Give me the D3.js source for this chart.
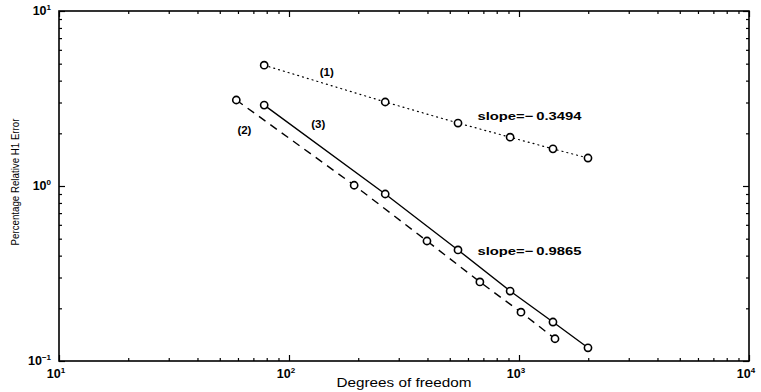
<!DOCTYPE html>
<html>
<head>
<meta charset="utf-8">
<script src="https://cdn.jsdelivr.net/npm/d3@7.9.0/dist/d3.min.js"></script>
<style>
  body { margin: 0; background: #fff; }
  text { font-family: "Liberation Sans", Arial, sans-serif; fill: #000; }
</style>
</head>
<body>
<div id="chart"></div>
<script>
// degrees of freedom for each curve
const dofA = [78, 262, 543, 915, 1405, 1995];   // curves (1) and (3)
const dofB = [59, 192, 398, 676, 1020, 1434];   // curve (2)

// percentage relative H1 error
const err1 = [4.9, 3.02, 2.29, 1.9, 1.63, 1.445];
const err2 = [3.1, 1.01, 0.485, 0.283, 0.19, 0.134];
const err3 = [2.9, 0.9, 0.431, 0.251, 0.167, 0.119];

const xMajor = [1e1, 1e2, 1e3, 1e4];
const yMajor = [1e-1, 1e0, 1e1];
const xExp = ["1", "2", "3", "4"];
const yExp = ["-1", "0", "1"];

const annotations = [
  { text: "(1)", x: 146, y: 4.48 },
  { text: "(2)", x: 64, y: 2.1 },
  { text: "(3)", x: 134, y: 2.25 },
  { text: "slope=\u2212\u20090.3494", x: 660, y: 2.5 },
  { text: "slope=\u2212\u20090.9865", x: 660, y: 0.425 }
];

const W = 761, H = 392;
const margin = { top: 11, right: 12, bottom: 31, left: 59 };
const width = W - margin.left - margin.right;
const height = H - margin.top - margin.bottom;

const svg = d3.select("#chart").append("svg")
  .attr("width", W)
  .attr("height", H);

const g = svg.append("g")
  .attr("transform", `translate(${margin.left},${margin.top})`);

const x = d3.scaleLog().domain([10, 1e4]).range([0, width]);
const y = d3.scaleLog().domain([0.1, 10]).range([height, 0]);

// minor ticks 2..9 per decade
function minors(lo, hi) {
  const out = [];
  for (let e = lo; e < hi; e++)
    for (let k = 2; k <= 9; k++) out.push(k * Math.pow(10, e));
  return out;
}
const xMinor = minors(1, 4);
const yMinor = minors(-1, 1);

function tickAxis(axisFn, scale, values, size, transform) {
  const a = g.append("g")
    .attr("transform", transform)
    .call(axisFn(scale).tickValues(values).tickSize(size).tickFormat(""));
  a.select(".domain").remove();
  a.selectAll("line").attr("stroke", "#000").attr("stroke-width", 1.2);
}

// inward ticks on all four sides
tickAxis(d3.axisBottom, x, xMinor, -3, `translate(0,${height})`);
tickAxis(d3.axisBottom, x, xMajor, -6, `translate(0,${height})`);
tickAxis(d3.axisTop, x, xMinor, -3, "translate(0,0)");
tickAxis(d3.axisTop, x, xMajor, -6, "translate(0,0)");
tickAxis(d3.axisLeft, y, yMinor, -3, "translate(0,0)");
tickAxis(d3.axisLeft, y, yMajor, -6, "translate(0,0)");
tickAxis(d3.axisRight, y, yMinor, -3, `translate(${width},0)`);
tickAxis(d3.axisRight, y, yMajor, -6, `translate(${width},0)`);

// frame
g.append("rect")
  .attr("width", width)
  .attr("height", height)
  .attr("fill", "none")
  .attr("stroke", "#000")
  .attr("stroke-width", 1.6);

// tick labels (10 with superscript)
function powLabel(sel, exp) {
  sel.append("tspan").text("10");
  sel.append("tspan")
    .attr("dy", -5)
    .style("font-size", "8px")
    .text(exp.replace("-", "\u2212"));
}

xMajor.forEach((v, i) => {
  g.append("text")
    .attr("x", x(v) - 3)
    .attr("y", height + 17)
    .attr("text-anchor", "middle")
    .style("font-size", "12.5px")
    .style("font-weight", "bold")
    .call(powLabel, xExp[i]);
});

yMajor.forEach((v, i) => {
  g.append("text")
    .attr("x", -8)
    .attr("y", y(v) + 4)
    .attr("text-anchor", "end")
    .style("font-size", "12.5px")
    .style("font-weight", "bold")
    .call(powLabel, yExp[i]);
});

// axis titles
g.append("text")
  .attr("x", width / 2)
  .attr("y", height + 26)
  .attr("text-anchor", "middle")
  .attr("textLength", 135)
  .attr("lengthAdjust", "spacingAndGlyphs")
  .style("font-size", "12.5px")
  .text("Degrees of freedom");

svg.append("text")
  .attr("transform", `translate(19,182) rotate(-90)`)
  .attr("text-anchor", "middle")
  .attr("textLength", 127)
  .attr("lengthAdjust", "spacingAndGlyphs")
  .style("font-size", "11px")
  .text("Percentage Relative H1 Error");

// curves
const series = [
  { xs: dofA, ys: err1, dash: "1,4", width: 1.2 },
  { xs: dofB, ys: err2, dash: "8,6", width: 1.4 },
  { xs: dofA, ys: err3, dash: null, width: 1.4 }
];

const line = d3.line()
  .x(d => x(d[0]))
  .y(d => y(d[1]));

series.forEach(s => {
  const pts = s.xs.map((v, i) => [v, s.ys[i]]);
  g.append("path")
    .datum(pts)
    .attr("d", line)
    .attr("fill", "none")
    .attr("stroke", "#000")
    .attr("stroke-width", s.width)
    .attr("stroke-dasharray", s.dash)
    .attr("stroke-linecap", s.dash === "1,4" ? "round" : "butt");

  g.selectAll(null)
    .data(pts)
    .join("circle")
      .attr("cx", d => x(d[0]))
      .attr("cy", d => y(d[1]))
      .attr("r", 3.6)
      .attr("fill", "#fff")
      .attr("stroke", "#000")
      .attr("stroke-width", 1.6);
});

// annotations
annotations.forEach(a => {
  const isSlope = a.text.startsWith("slope");
  const t = g.append("text")
    .attr("x", x(a.x))
    .attr("y", y(a.y))
    .attr("text-anchor", isSlope ? "start" : "middle")
    .attr("dy", "0.35em")
    .style("font-size", isSlope ? "11px" : "11.5px")
    .style("font-weight", "bold")
    .text(a.text);
  if (isSlope) t.attr("textLength", 104).attr("lengthAdjust", "spacingAndGlyphs");
});
</script>
</body>
</html>
